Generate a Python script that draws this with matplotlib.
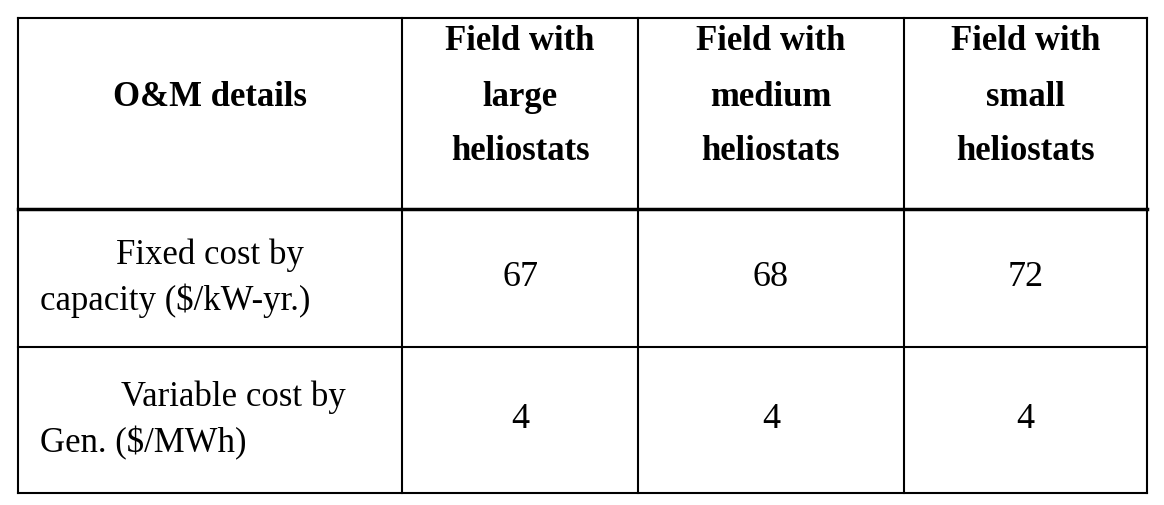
import matplotlib
matplotlib.use("Agg")
import matplotlib.pyplot as plt

col_headers = ["Field with\nlarge\nheliostats", "Field with\nmedium\nheliostats", "Field with\nsmall\nheliostats"]
corner = "O&M details"
row_labels = [["Fixed cost by", "capacity ($/kW-yr.)"], ["Variable cost by", "Gen. ($/MWh)"]]
values = [[67, 68, 72], [4, 4, 4]]

W, H = 1164, 505
fig = plt.figure(figsize=(W/100, H/100), dpi=100)
ax = fig.add_axes([0, 0, 1, 1])
ax.set_xlim(0, W); ax.set_ylim(H, 0); ax.axis("off")

xs = [18, 402, 638, 904, 1147]
ys = [18, 209, 347, 493]
fam = "Liberation Serif"
lw = 1.5
for x in xs:
    ax.plot([x, x], [ys[0], ys[-1]], color="black", lw=lw)
for i, y in enumerate(ys):
    ax.plot([xs[0], xs[-1]], [y, y], color="black", lw=2.5 if i == 1 else lw)

ax.text((xs[0]+xs[1])/2, 97, corner, ha="center", va="center", fontsize=25, fontweight="bold", family=fam)
for j, h in enumerate(col_headers):
    cx = (xs[j+1]+xs[j+2])/2
    for k, line in enumerate(h.split("\n")):
        ax.text(cx, 42+55*k, line, ha="center", va="center", fontsize=25, fontweight="bold", family=fam)

for i, (l1, l2) in enumerate(row_labels):
    yc = (ys[i+1]+ys[i+2])/2
    ax.text(210 if i == 0 else 233, yc-23, l1, ha="center", va="center", fontsize=25, family=fam)
    ax.text(40, yc+23, l2, ha="left", va="center", fontsize=25, family=fam)
    for j, v in enumerate(values[i]):
        ax.text((xs[j+1]+xs[j+2])/2, yc, str(v), ha="center", va="center", fontsize=26, family=fam)

fig.savefig("out.png", dpi=100)
